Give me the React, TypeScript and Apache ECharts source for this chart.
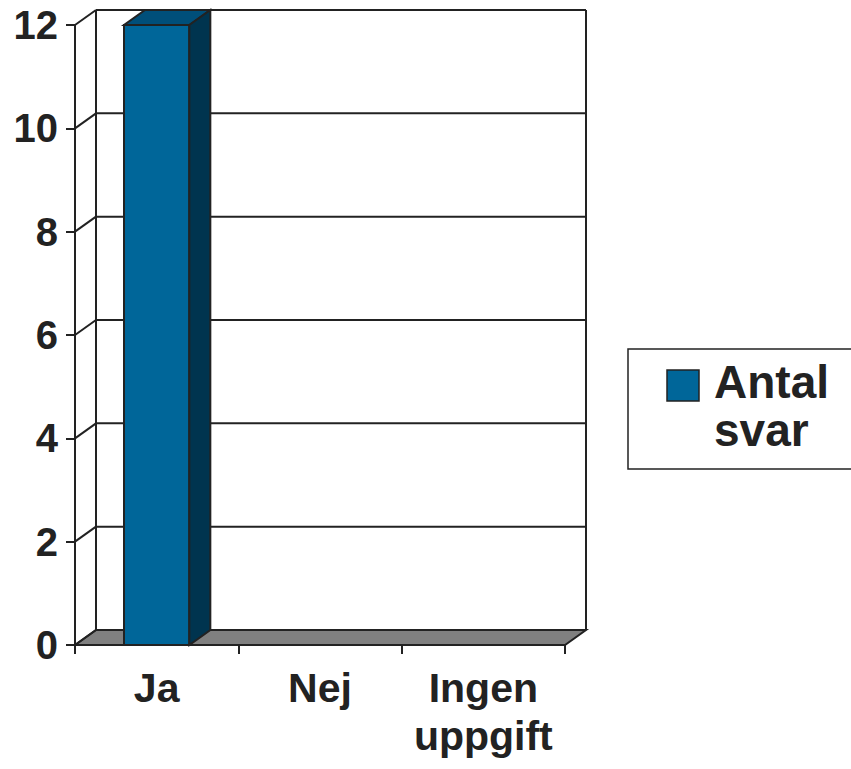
import React, { useEffect, useRef } from 'react';
import * as echarts from 'echarts';

const categories = ['Ja', 'Nej', 'Ingen uppgift'];
const antalSvar = [12, 0, 0];
const yTicks = [0, 2, 4, 6, 8, 10, 12];
const seriesName = 'Antal svar';

const DX = 21;
const DY = -15;
const FRONT = '#006699';
const TOP = '#004F7A';
const SIDE = '#00344F';
const INK = '#222222';
const FLOOR = '#808080';
const FONT = '"Liberation Sans", Arial, sans-serif';

export default function App() {
  const ref = useRef<HTMLDivElement>(null);
  useEffect(() => {
    const chart = echarts.init(ref.current as HTMLDivElement, null, { renderer: 'svg' });
    const line = (x1: number, y1: number, x2: number, y2: number) => ({
      type: 'line',
      shape: { x1, y1, x2, y2 },
      style: { stroke: INK, lineWidth: 2 },
    });
    chart.setOption({
      animation: false,
      grid: { left: 75, top: 25, right: 286, bottom: 124 },
      xAxis: {
        type: 'category',
        data: categories,
        axisLine: { show: true, lineStyle: { color: INK, width: 2 } },
        axisTick: { show: true, interval: 0, length: 9, lineStyle: { color: INK, width: 2 } },
        axisLabel: {
          interval: 0,
          hideOverlap: false,
          margin: 19,
          color: INK,
          fontFamily: FONT,
          fontWeight: 'bold',
          fontSize: 41,
          lineHeight: 48,
          formatter: (v: string) => v.replace(' ', '\n'),
        },
        splitLine: { show: false },
      },
      yAxis: {
        type: 'value',
        min: 0,
        max: 12,
        interval: 2,
        axisLine: { show: true, lineStyle: { color: INK, width: 2 } },
        axisTick: { show: true, length: 9, lineStyle: { color: INK, width: 2 } },
        axisLabel: {
          margin: 17,
          color: INK,
          fontFamily: FONT,
          fontWeight: 'bold',
          fontSize: 40,
        },
        splitLine: { show: false },
      },
      series: [
        {
          type: 'custom',
          name: 'walls',
          silent: true,
          z: 1,
          data: yTicks.map((v) => [0, v]),
          renderItem: (params: any, api: any) => {
            const cs = params.coordSys;
            const v = api.value(1);
            const y = api.coord([0, v])[1];
            const x0 = cs.x;
            const x1 = cs.x + cs.width;
            const children: any[] = [];
            if (v === yTicks[0]) {
              children.push({
                type: 'polygon',
                shape: { points: [[x0, y], [x1, y], [x1 + DX, y + DY], [x0 + DX, y + DY]] },
                style: { fill: FLOOR, stroke: INK, lineWidth: 2 },
              });
              children.push(line(x0 + DX, cs.y + DY, x0 + DX, y + DY));
              children.push(line(x1 + DX, cs.y + DY, x1 + DX, y + DY));
            } else {
              children.push(line(x0 + DX, y + DY, x1 + DX, y + DY));
            }
            children.push(line(x0, y, x0 + DX, y + DY));
            return { type: 'group', children };
          },
        },
        {
          type: 'custom',
          name: seriesName,
          z: 2,
          data: categories.map((c, i) => [i, antalSvar[i]]),
          renderItem: (params: any, api: any) => {
            const idx = api.value(0);
            const v = api.value(1);
            if (!v) return { type: 'group', children: [] };
            const top = api.coord([idx, v]);
            const bot = api.coord([idx, 0]);
            const bw = api.size([1, 0])[0] * 0.4;
            const xl = top[0] - bw / 2;
            const xr = top[0] + bw / 2;
            const st = { stroke: INK, lineWidth: 2 };
            return {
              type: 'group',
              children: [
                {
                  type: 'rect',
                  shape: { x: xl, y: top[1], width: bw, height: bot[1] - top[1] },
                  style: { fill: FRONT, ...st },
                },
                {
                  type: 'polygon',
                  shape: { points: [[xl, top[1]], [xr, top[1]], [xr + DX, top[1] + DY], [xl + DX, top[1] + DY]] },
                  style: { fill: TOP, ...st },
                },
                {
                  type: 'polygon',
                  shape: { points: [[xr, top[1]], [xr + DX, top[1] + DY], [xr + DX, bot[1] + DY], [xr, bot[1]]] },
                  style: { fill: SIDE, ...st },
                },
              ],
            };
          },
        },
      ],
      graphic: [
        {
          type: 'rect',
          shape: { x: 628, y: 349, width: 260, height: 120 },
          style: { fill: '#ffffff', stroke: INK, lineWidth: 1.5 },
          z: 10,
        },
        {
          type: 'rect',
          shape: { x: 667, y: 370, width: 32, height: 31 },
          style: { fill: FRONT, stroke: INK, lineWidth: 1.5 },
          z: 11,
        },
        {
          type: 'text',
          x: 714,
          y: 358,
          z: 11,
          style: {
            text: 'Antal\nsvar',
            fill: INK,
            font: `bold 46px ${FONT}`,
            lineHeight: 48,
            textAlign: 'left',
            textVerticalAlign: 'top',
          },
        },
      ],
    });
    return () => chart.dispose();
  }, []);
  return (
    <div
      ref={ref}
      style={{ position: 'absolute', left: 0, top: 0, width: 851, height: 769 }}
    />
  );
}
